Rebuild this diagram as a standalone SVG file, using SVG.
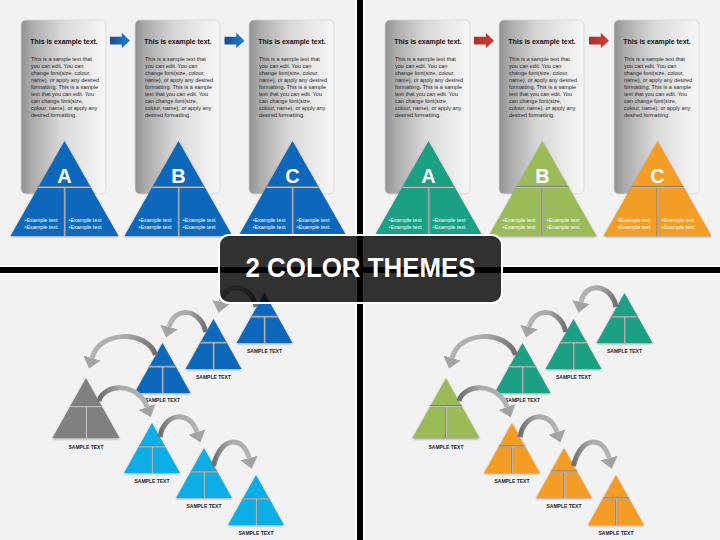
<svg xmlns="http://www.w3.org/2000/svg" xmlns:xlink="http://www.w3.org/1999/xlink" width="720" height="540" viewBox="0 0 720 540">
<style>
.ttl{font-family:"Liberation Sans",Arial,sans-serif;font-weight:bold;font-size:6.9px;fill:#111;text-anchor:middle}
.body{font-family:"Liberation Sans",Arial,sans-serif;font-size:5.5px;fill:#262626}
.let{font-family:"Liberation Sans",Arial,sans-serif;font-weight:bold;font-size:20px;fill:#fff;text-anchor:middle}
.ex{font-family:"Liberation Sans",Arial,sans-serif;font-size:5.4px;fill:#fff}
.lbl{font-family:"Liberation Sans",Arial,sans-serif;font-weight:bold;font-size:5px;fill:#222;text-anchor:middle}
.card{fill:url(#cardG);stroke:#d4d4d4;stroke-width:0.8}
.d1{stroke:#7a7a7a;stroke-width:1.8;fill:none}
.d2{stroke:#e2e2e2;stroke-width:0.7;fill:none}
.sh{fill:none;stroke-width:5}
.shL{stroke:url(#shGL)}
.shR{stroke:url(#shGR)}
.ban{font-family:"Liberation Sans",Arial,sans-serif;font-weight:bold;font-size:27px;fill:#fff;text-anchor:middle}
</style>
<defs>
<linearGradient id="cardG" x1="0" y1="0" x2="1" y2="0">
<stop offset="0" stop-color="#909090"/>
<stop offset="0.12" stop-color="#aaaaaa"/>
<stop offset="0.45" stop-color="#d6d6d6"/>
<stop offset="0.8" stop-color="#ececec"/>
<stop offset="1" stop-color="#f6f6f6"/>
</linearGradient>
<linearGradient id="blueA" x1="0" y1="0" x2="1" y2="0">
<stop offset="0" stop-color="#1d4a8a"/>
<stop offset="1" stop-color="#1c82d8"/>
</linearGradient>
<linearGradient id="redA" x1="0" y1="0" x2="1" y2="0">
<stop offset="0" stop-color="#a8322a"/>
<stop offset="1" stop-color="#d23b2e"/>
</linearGradient>
<linearGradient id="shGL" x1="1" y1="0" x2="0" y2="0">
<stop offset="0" stop-color="#6e6e6e"/>
<stop offset="0.45" stop-color="#a8a8a8"/>
<stop offset="1" stop-color="#b4b4b4"/>
</linearGradient>
<linearGradient id="shGR" x1="0" y1="0" x2="1" y2="0">
<stop offset="0" stop-color="#6e6e6e"/>
<stop offset="0.45" stop-color="#a8a8a8"/>
<stop offset="1" stop-color="#b4b4b4"/>
</linearGradient>
<filter id="ds" x="-20%" y="-20%" width="140%" height="140%">
<feDropShadow dx="0" dy="1" stdDeviation="0.8" flood-color="#000" flood-opacity="0.35"/>
</filter>
<marker id="ah" markerUnits="userSpaceOnUse" markerWidth="14" markerHeight="20" refX="0" refY="9" orient="auto">
<path d="M0,0 L11,9 L0,18 z" fill="#a3a3a3"/>
</marker>
<g id="bigTri">
<polygon points="0,0 -54,95 54,95" filter="url(#ds)"/>
<path class="d1" d="M-26,46 H26 M0,46 V95"/>
<path class="d2" d="M-26,46.5 H26 M0.4,47 V95"/>
</g>
<g id="smTri">
<polygon points="0,0 -28,50 28,50" filter="url(#ds)"/>
<path class="d1" d="M-13.2,23.5 H13.2 M0,23.5 V50"/>
<path class="d2" d="M-13.2,23.9 H13.2 M0.3,24 V50"/>
</g>
<g id="bodyTxt">
<rect class="card" x="0" y="20" width="85" height="174" rx="5"/>
<text class="ttl" x="43" y="43.5">This is example text.</text>
<text class="body" x="10" y="60.5"><tspan x="10">This is a sample text that</tspan><tspan x="10" dy="7">you can edit. You can</tspan><tspan x="10" dy="7">change font(size, colour,</tspan><tspan x="10" dy="7">name), or apply any desired</tspan><tspan x="10" dy="7">formatting. This is a sample</tspan><tspan x="10" dy="7">text that you can edit. You</tspan><tspan x="10" dy="7">can change font(size,</tspan><tspan x="10" dy="7">colour, name), or apply any</tspan><tspan x="10" dy="7">desired formatting.</tspan></text>
</g>
<g id="exTxt">
<text class="ex" x="-40" y="81">•Example text</text>
<text class="ex" x="-40" y="88">•Example text</text>
<text class="ex" x="4" y="81">•Example text</text>
<text class="ex" x="4" y="88">•Example text</text>
</g>
</defs>

<rect x="0" y="0" width="720" height="540" fill="#f2f2f2"/>
<g id="dividers">
<rect x="0" y="265.5" width="720" height="9" fill="#ffffff"/>
<rect x="355.5" y="0" width="9" height="540" fill="#ffffff"/>
<rect x="0" y="267" width="720" height="6" fill="#000"/>
<rect x="357" y="0" width="6" height="540" fill="#000"/>
</g>

<!-- Top-left: blue theme cards -->
<g id="card-tl-a" transform="translate(21,0)">
<use href="#bodyTxt"/>
<g transform="translate(43.5,141)"><use href="#bigTri" fill="#1068bb"/><text class="let" x="0" y="42">A</text><use href="#exTxt"/></g>
</g>
<g id="card-tl-b" transform="translate(135,0)">
<use href="#bodyTxt"/>
<g transform="translate(43.5,141)"><use href="#bigTri" fill="#1068bb"/><text class="let" x="0" y="42">B</text><use href="#exTxt"/></g>
</g>
<g id="card-tl-c" transform="translate(249,0)">
<use href="#bodyTxt"/>
<g transform="translate(43.5,141)"><use href="#bigTri" fill="#1068bb"/><text class="let" x="0" y="42">C</text><use href="#exTxt"/></g>
</g>

<!-- Top-right: colour theme cards -->
<g id="card-tr-a" transform="translate(385,0)">
<use href="#bodyTxt"/>
<g transform="translate(43.5,141)"><use href="#bigTri" fill="#1ba084"/><text class="let" x="0" y="42">A</text><use href="#exTxt"/></g>
</g>
<g id="card-tr-b" transform="translate(499,0)">
<use href="#bodyTxt"/>
<g transform="translate(43.5,141)"><use href="#bigTri" fill="#9bbb59"/><text class="let" x="0" y="42">B</text><use href="#exTxt"/></g>
</g>
<g id="card-tr-c" transform="translate(614,0)">
<use href="#bodyTxt"/>
<g transform="translate(43.5,141)"><use href="#bigTri" fill="#f39c27"/><text class="let" x="0" y="42">C</text><use href="#exTxt"/></g>
</g>

<!-- Bottom-left nodes -->
<g id="bl-blue1" transform="translate(264.5,293)"><use href="#smTri" fill="#1068bb"/><text class="lbl" x="0" y="60">SAMPLE TEXT</text></g>
<g id="bl-blue2" transform="translate(213.5,319)"><use href="#smTri" fill="#1068bb"/><text class="lbl" x="0" y="59.5">SAMPLE TEXT</text></g>
<g id="bl-blue3" transform="translate(162.5,343)"><use href="#smTri" fill="#1068bb"/><text class="lbl" x="0" y="58.5">SAMPLE TEXT</text></g>
<g id="bl-gray"><g transform="translate(86,378) scale(1.2)"><use href="#smTri" fill="#808080"/></g><text class="lbl" x="86" y="449">SAMPLE TEXT</text></g>
<g id="bl-cyan1" transform="translate(152,423)"><use href="#smTri" fill="#0aade6"/><text class="lbl" x="0" y="60">SAMPLE TEXT</text></g>
<g id="bl-cyan2" transform="translate(204,448)"><use href="#smTri" fill="#0aade6"/><text class="lbl" x="0" y="59.5">SAMPLE TEXT</text></g>
<g id="bl-cyan3" transform="translate(256,475)"><use href="#smTri" fill="#0aade6"/><text class="lbl" x="0" y="60">SAMPLE TEXT</text></g>

<!-- Bottom-right nodes -->
<g id="br-teal1" transform="translate(624.5,293)"><use href="#smTri" fill="#1ba084"/><text class="lbl" x="0" y="60">SAMPLE TEXT</text></g>
<g id="br-teal2" transform="translate(573.5,319)"><use href="#smTri" fill="#1ba084"/><text class="lbl" x="0" y="59.5">SAMPLE TEXT</text></g>
<g id="br-teal3" transform="translate(522.5,343)"><use href="#smTri" fill="#1ba084"/><text class="lbl" x="0" y="58.5">SAMPLE TEXT</text></g>
<g id="br-green"><g transform="translate(446,378) scale(1.2)"><use href="#smTri" fill="#9bbb59"/></g><text class="lbl" x="446" y="449">SAMPLE TEXT</text></g>
<g id="br-orange1" transform="translate(512,423)"><use href="#smTri" fill="#f39c27"/><text class="lbl" x="0" y="60">SAMPLE TEXT</text></g>
<g id="br-orange2" transform="translate(564,448)"><use href="#smTri" fill="#f39c27"/><text class="lbl" x="0" y="59.5">SAMPLE TEXT</text></g>
<g id="br-orange3" transform="translate(616,475)"><use href="#smTri" fill="#f39c27"/><text class="lbl" x="0" y="60">SAMPLE TEXT</text></g>

<!-- Connectors -->
<g id="connectors">
<polygon points="110,36.8 121.8,36.8 121.8,32.8 130,40.7 121.8,48 121.8,44.4 110,44.4" fill="url(#blueA)"/>
<polygon points="224.5,36.8 236.3,36.8 236.3,32.8 244.5,40.7 236.3,48 236.3,44.4 224.5,44.4" fill="url(#blueA)"/>
<polygon points="474,36.8 485.8,36.8 485.8,32.8 494,40.7 485.8,48 485.8,44.4 474,44.4" fill="url(#redA)"/>
<polygon points="589,36.8 600.8,36.8 600.8,32.8 609,40.7 600.8,48 600.8,44.4 589,44.4" fill="url(#redA)"/>

<path class="sh shL" d="M256,307 C252,285 226,280 221,302" marker-end="url(#ah)"/>
<path class="sh shL" d="M205.7,332 C201,309 175,305 169,327" marker-end="url(#ah)"/>
<path class="sh shL" d="M155.5,355 C148,331 100,329 92,358" marker-end="url(#ah)"/>
<path class="sh shR" d="M99,401 C104,383 138,382 147,407" marker-end="url(#ah)"/>
<path class="sh shR" d="M160,437 C164,412 190,410 197,432" marker-end="url(#ah)"/>
<path class="sh shR" d="M213.5,466 C220,437 243,434 249,458" marker-end="url(#ah)"/>

<path class="sh shL" d="M616,307 C612,285 586,280 581,302" marker-end="url(#ah)"/>
<path class="sh shL" d="M565.7,332 C561,309 535,305 529,327" marker-end="url(#ah)"/>
<path class="sh shL" d="M515.5,355 C508,331 460,329 452,358" marker-end="url(#ah)"/>
<path class="sh shR" d="M459,401 C464,383 498,382 507,407" marker-end="url(#ah)"/>
<path class="sh shR" d="M520,437 C524,412 550,410 557,432" marker-end="url(#ah)"/>
<path class="sh shR" d="M573.5,466 C580,437 603,434 609,458" marker-end="url(#ah)"/>
</g>

<!-- Banner -->
<g id="banner">
<rect x="219" y="235" width="283" height="68" rx="10" fill="#000" fill-opacity="0.8" stroke="#ffffff" stroke-width="2"/>
<text class="ban" x="360.5" y="277" textLength="230" lengthAdjust="spacingAndGlyphs">2 COLOR THEMES</text>
</g>
</svg>
